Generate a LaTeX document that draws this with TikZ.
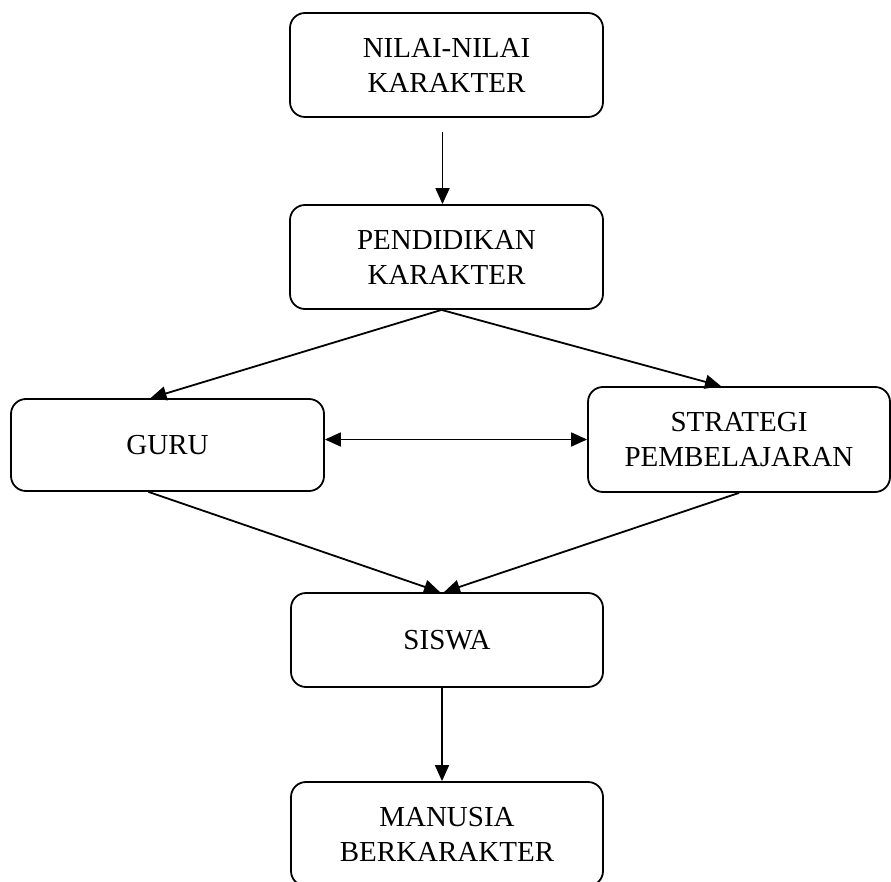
\documentclass[tikz,border=0pt]{standalone}
\usepackage{fontspec}
\setmainfont{Liberation Serif}
\usetikzlibrary{arrows.meta}
\begin{document}
\begin{tikzpicture}[x=1pt,y=-1pt,
  box/.style={draw,line width=1.8pt,rounded corners=15pt,align=center,inner sep=0pt,
    font=\fontsize{29}{35}\selectfont},
  arr/.style={line width=1.8pt,-{Triangle[length=16pt,width=14pt]}},
  darr/.style={line width=1.8pt,{Triangle[length=16pt,width=14pt]}-{Triangle[length=16pt,width=14pt]}}]
\useasboundingbox (0,0) rectangle (891,882);
\node[box,minimum width=313pt,minimum height=104pt] (n1) at (446.5,65) {NILAI-NILAI\\KARAKTER};
\node[box,minimum width=313pt,minimum height=104pt] (n2) at (446.5,257) {PENDIDIKAN\\KARAKTER};
\node[box,minimum width=313pt,minimum height=92pt] (guru) at (167.5,445) {GURU};
\node[box,minimum width=302pt,minimum height=105pt] (strat) at (739,439.5) {STRATEGI\\PEMBELAJARAN};
\node[box,minimum width=312pt,minimum height=94pt] (siswa) at (447,640) {SISWA};
\node[box,minimum width=312pt,minimum height=104pt] (man) at (447,834) {MANUSIA\\BERKARAKTER};
\draw[arr] ([xshift=-4pt,yshift=-14pt]n1.south) -- ([xshift=-4pt]n2.north);
\draw[arr] ([xshift=-5pt]n2.south) -- ([xshift=-17pt]guru.north);
\draw[arr] ([xshift=-5pt]n2.south) -- ([xshift=-18pt]strat.north);
\draw[darr] (guru.east |- strat.west) -- (strat.west);
\draw[arr] ([xshift=-19pt]guru.south) -- ([xshift=-7pt]siswa.north);
\draw[arr] (strat.south) -- ([xshift=-3pt]siswa.north);
\draw[arr] ([xshift=-5pt]siswa.south) -- ([xshift=-5pt]man.north);
\end{tikzpicture}
\end{document}
